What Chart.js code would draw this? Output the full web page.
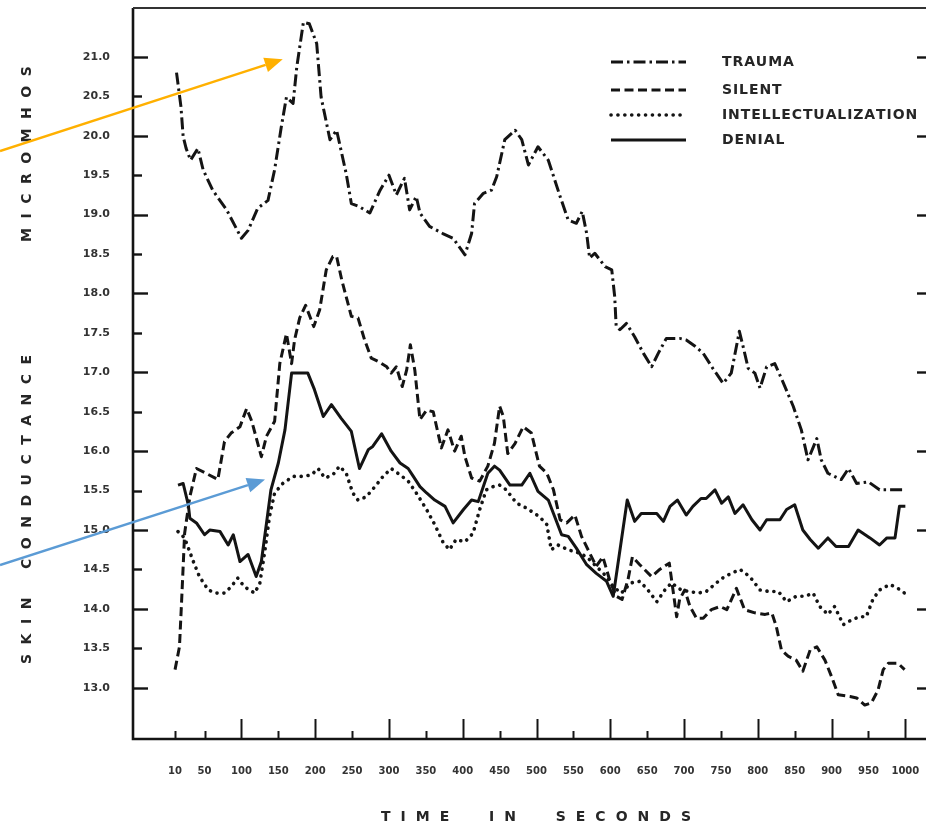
<!DOCTYPE html>
<html>
<head>
<meta charset="utf-8">
<title>Skin conductance over time</title>
<script src="https://cdn.jsdelivr.net/npm/chart.js@4.4.1/dist/chart.umd.min.js"></script>
<style>
  html, body { margin: 0; padding: 0; background: #ffffff; }
  #wrap { width: 927px; height: 826px; }
</style>
</head>
<body>
<div id="wrap"><canvas id="c" width="927" height="826"></canvas></div>
<script>
// ---- data: time (s) and skin conductance (micromhos) per condition ----
const traumaTimes = [12,18,21,25,31,41,48,61,80,100,109,122,136,145,154,161,170,175,184,192,202,208,220,229,242,249,260,274,288,300,310,321,328,337,342,355,373,387,403,412,416,428,439,446,457,471,480,489,502,516,532,543,554,562,568,572,579,593,602,606,608,613,622,633,645,656,665,676,694,703,715,726,739,753,764,775,780,787,796,803,812,823,834,848,859,868,880,886,895,913,923,934,950,965,1000];
const traumaValues = [20.80,20.37,19.99,19.84,19.69,19.84,19.57,19.31,19.06,18.70,18.80,19.08,19.18,19.57,20.11,20.49,20.41,20.87,21.44,21.42,21.17,20.49,19.95,20.07,19.52,19.14,19.10,19.02,19.31,19.50,19.25,19.46,19.06,19.23,19.02,18.85,18.76,18.70,18.49,18.76,19.14,19.27,19.31,19.48,19.95,20.07,19.95,19.63,19.86,19.69,19.23,18.93,18.89,19.04,18.76,18.45,18.51,18.34,18.30,17.96,17.58,17.54,17.62,17.45,17.24,17.07,17.24,17.43,17.43,17.41,17.33,17.24,17.05,16.86,16.99,17.52,17.33,17.05,16.99,16.80,17.07,17.11,16.88,16.57,16.27,15.89,16.16,15.89,15.72,15.64,15.78,15.59,15.61,15.51,15.51];

const silentTimes = [10,16,19,23,30,39,52,68,77,86,98,107,114,127,134,145,152,161,168,172,179,187,198,206,215,224,229,236,249,258,267,276,285,297,303,310,318,324,329,335,342,351,360,371,380,389,398,403,412,423,434,443,450,455,461,471,482,493,504,514,523,532,541,552,561,572,581,590,599,608,616,624,630,640,656,667,680,685,690,694,701,708,717,726,737,749,758,771,782,796,810,819,825,832,841,852,861,871,880,891,900,909,925,934,945,954,963,970,977,990,999];
const silentValues = [13.23,13.52,14.12,14.96,15.42,15.78,15.72,15.64,16.12,16.23,16.31,16.54,16.38,15.93,16.19,16.38,17.11,17.49,17.11,17.41,17.69,17.85,17.58,17.79,18.30,18.47,18.47,18.17,17.71,17.69,17.41,17.18,17.14,17.07,16.99,17.07,16.82,17.03,17.35,17.03,16.40,16.52,16.50,16.04,16.27,16.00,16.19,15.93,15.66,15.62,15.81,16.10,16.57,16.44,15.97,16.10,16.31,16.23,15.81,15.72,15.51,15.13,15.09,15.19,14.92,14.71,14.54,14.66,14.37,14.16,14.12,14.37,14.66,14.56,14.41,14.50,14.58,14.24,13.90,14.12,14.24,14.03,13.88,13.88,13.99,14.03,13.99,14.26,13.99,13.95,13.93,13.95,13.78,13.48,13.40,13.35,13.21,13.48,13.52,13.35,13.14,12.91,12.89,12.87,12.78,12.81,12.97,13.23,13.31,13.31,13.23];

const intellTimes = [14,23,34,43,55,66,77,86,95,104,118,125,132,138,145,156,170,184,195,204,213,224,233,242,251,258,269,281,292,303,315,326,337,351,362,373,382,391,403,414,423,432,441,450,459,473,486,504,514,520,529,543,557,568,581,595,604,615,628,640,651,663,674,683,696,708,719,730,744,755,764,776,789,803,816,828,839,852,864,875,884,895,904,916,927,938,947,956,965,979,990,999];
const intellValues = [14.98,14.90,14.62,14.41,14.24,14.20,14.20,14.28,14.39,14.28,14.20,14.33,14.75,15.17,15.47,15.59,15.68,15.68,15.70,15.78,15.66,15.70,15.81,15.72,15.47,15.38,15.42,15.55,15.68,15.78,15.70,15.62,15.47,15.26,15.07,14.85,14.75,14.88,14.85,14.96,15.26,15.51,15.55,15.57,15.51,15.34,15.28,15.17,15.07,14.75,14.81,14.75,14.71,14.66,14.54,14.41,14.28,14.20,14.33,14.35,14.24,14.09,14.24,14.33,14.24,14.22,14.20,14.22,14.33,14.41,14.45,14.50,14.41,14.24,14.22,14.22,14.09,14.16,14.16,14.20,14.03,13.93,14.03,13.80,13.86,13.90,13.90,14.12,14.24,14.31,14.26,14.20];

const denialTimes = [14,21,28,30,39,50,57,71,82,89,98,109,120,127,134,140,150,159,168,174,190,199,211,222,235,249,260,272,278,290,303,315,326,333,342,351,362,376,387,401,412,421,434,443,450,464,480,491,502,516,523,534,543,554,568,581,595,604,623,633,642,663,672,681,691,703,712,723,730,742,751,760,769,780,792,803,812,830,839,850,861,871,882,895,906,923,936,952,965,975,986,992,1000];
const denialValues = [15.57,15.59,15.32,15.15,15.09,14.94,15.00,14.98,14.81,14.94,14.60,14.69,14.41,14.60,15.09,15.51,15.85,16.27,16.99,16.99,16.99,16.78,16.44,16.59,16.42,16.25,15.78,16.02,16.06,16.22,16.00,15.85,15.78,15.68,15.55,15.47,15.38,15.30,15.09,15.26,15.38,15.36,15.72,15.81,15.76,15.57,15.57,15.72,15.49,15.38,15.21,14.94,14.92,14.77,14.56,14.45,14.35,14.16,15.38,15.11,15.21,15.21,15.11,15.30,15.38,15.19,15.30,15.40,15.40,15.51,15.34,15.42,15.21,15.32,15.13,15.00,15.13,15.13,15.26,15.32,15.00,14.88,14.77,14.90,14.79,14.79,15.00,14.90,14.81,14.90,14.90,15.30,15.30];

const seriesLabels = ['TRAUMA', 'SILENT', 'INTELLECTUALIZATION', 'DENIAL'];
const xTickValues = [10,50,100,150,200,250,300,350,400,450,500,550,600,650,700,750,800,850,900,950,1000];
const yTickValues = [13.0,13.5,14.0,14.5,15.0,15.5,16.0,16.5,17.0,17.5,18.0,18.5,19.0,19.5,20.0,20.5,21.0];
const yTitleWords = ['SKIN', 'CONDUCTANCE', 'MICROMHOS'];
const xTitle = 'TIME  IN  SECONDS';

const INK = '#141414';
const TEXT = '#262626';

function points(times, values) {
  return times.map((t, i) => ({ x: t, y: values[i] }));
}

// draw text one character at a time with extra tracking
function spacedWidth(ctx, text, spacing) {
  let w = 0;
  for (const ch of text) w += ctx.measureText(ch).width + spacing;
  return w - spacing;
}
function drawSpaced(ctx, text, x, y, spacing) {
  let cx = x;
  for (const ch of text) {
    ctx.fillText(ch, cx, y);
    cx += ctx.measureText(ch).width + spacing;
  }
}

// fixed axis box sizes, no extra label padding around the plot
function fixSize(prop, size) {
  return function (s) {
    s[prop] = size;
    s.paddingLeft = 0; s.paddingRight = 0; s.paddingTop = 0; s.paddingBottom = 0;
  };
}

// axis frame with inward tick marks
const framePlugin = {
  id: 'frame',
  beforeDatasetsDraw(chart) {
    const { ctx, chartArea: a, scales: { x, y } } = chart;
    ctx.save();
    ctx.strokeStyle = INK;
    ctx.lineCap = 'butt';
    ctx.lineWidth = 2.6;
    ctx.beginPath();
    ctx.moveTo(a.left, a.top);
    ctx.lineTo(a.left, a.bottom);
    ctx.lineTo(a.right, a.bottom);
    ctx.stroke();
    ctx.lineWidth = 2;
    ctx.strokeStyle = '#333';
    ctx.beginPath();
    ctx.moveTo(a.left, a.top);
    ctx.lineTo(a.right, a.top);
    ctx.stroke();

    ctx.strokeStyle = INK;
    ctx.lineWidth = 2.4;
    yTickValues.forEach(v => {
      const py = Math.round(y.getPixelForValue(v)) + 0.5;
      const major = Math.abs(v - Math.round(v)) < 1e-6;
      ctx.beginPath();
      ctx.moveTo(a.left, py);
      ctx.lineTo(a.left + (major ? 15 : 9), py);
      ctx.stroke();
      if (major) {
        ctx.beginPath();
        ctx.moveTo(a.right, py);
        ctx.lineTo(a.right - 9, py);
        ctx.stroke();
      }
    });
    ctx.lineWidth = 2;
    xTickValues.forEach(v => {
      const px = Math.round(x.getPixelForValue(v)) + 0.5;
      const major = v % 100 === 0;
      ctx.beginPath();
      ctx.moveTo(px, a.bottom);
      ctx.lineTo(px, a.bottom - (major ? 20 : 8));
      ctx.stroke();
    });
    ctx.restore();
  }
};

// axis titles with wide letter tracking
const titlesPlugin = {
  id: 'titles',
  afterDraw(chart) {
    const { ctx } = chart;
    ctx.save();
    ctx.fillStyle = TEXT;
    ctx.font = 'bold 14px "DejaVu Sans"';
    ctx.textBaseline = 'middle';
    ctx.textAlign = 'left';
    const starts = [664, 569, 242];
    yTitleWords.forEach((w, i) => {
      ctx.save();
      ctx.translate(27, starts[i]);
      ctx.rotate(-Math.PI / 2);
      drawSpaced(ctx, w, 0, 0, 9.5);
      ctx.restore();
    });
    const w = spacedWidth(ctx, xTitle, 10);
    drawSpaced(ctx, xTitle, 536 - w / 2, 817, 10);
    ctx.restore();
  }
};

// legend: line sample + label per series
const legendPlugin = {
  id: 'lineLegend',
  afterDraw(chart) {
    const { ctx } = chart;
    const rows = [62, 90, 115, 140];
    ctx.save();
    chart.data.datasets.forEach((ds, i) => {
      const yy = rows[i];
      ctx.strokeStyle = ds.borderColor;
      ctx.lineWidth = ds.borderWidth;
      ctx.lineCap = ds.borderCapStyle || 'butt';
      ctx.setLineDash(ds.borderDash || []);
      ctx.beginPath();
      ctx.moveTo(611, yy);
      ctx.lineTo(686, yy);
      ctx.stroke();
      ctx.setLineDash([]);
      ctx.fillStyle = TEXT;
      ctx.font = 'bold 14px "DejaVu Sans"';
      ctx.textBaseline = 'middle';
      ctx.textAlign = 'left';
      drawSpaced(ctx, ds.label, 722, yy, 0.9);
    });
    ctx.restore();
  }
};

// highlight arrows pointing into the plot
const arrowSpecs = [
  { color: '#FFB000', tipX: 156, tipY: 20.97, tailPx: [0, 151] },
  { color: '#5B9BD5', tipX: 132, tipY: 15.64, tailPx: [0, 565] }
];
const arrowPlugin = {
  id: 'arrows',
  afterDraw(chart) {
    const { ctx, scales: { x, y } } = chart;
    ctx.save();
    arrowSpecs.forEach(s => {
      const tx = x.getPixelForValue(s.tipX), ty = y.getPixelForValue(s.tipY);
      const [sx, sy] = s.tailPx;
      const ang = Math.atan2(ty - sy, tx - sx);
      const head = 18, half = 7.5;
      const bx = tx - head * Math.cos(ang), by = ty - head * Math.sin(ang);
      ctx.strokeStyle = s.color;
      ctx.fillStyle = s.color;
      ctx.lineWidth = 2.4;
      ctx.beginPath();
      ctx.moveTo(sx, sy);
      ctx.lineTo(bx, by);
      ctx.stroke();
      ctx.beginPath();
      ctx.moveTo(tx, ty);
      ctx.lineTo(bx + half * Math.sin(ang), by - half * Math.cos(ang));
      ctx.lineTo(bx - half * Math.sin(ang), by + half * Math.cos(ang));
      ctx.closePath();
      ctx.fill();
    });
    ctx.restore();
  }
};

const common = { borderColor: INK, pointRadius: 0, tension: 0, fill: false, borderJoinStyle: 'round' };

new Chart(document.getElementById('c'), {
  type: 'line',
  data: {
    datasets: [
      { ...common, label: seriesLabels[0], data: points(traumaTimes, traumaValues), borderWidth: 3, borderDash: [12, 4, 2.5, 4] },
      { ...common, label: seriesLabels[1], data: points(silentTimes, silentValues), borderWidth: 3, borderDash: [9, 4.5] },
      { ...common, label: seriesLabels[2], data: points(intellTimes, intellValues), borderWidth: 3.6, borderDash: [0.1, 6.8], borderCapStyle: 'round' },
      { ...common, label: seriesLabels[3], data: points(denialTimes, denialValues), borderWidth: 3 }
    ]
  },
  options: {
    responsive: false,
    animation: false,
    devicePixelRatio: 1,
    layout: { padding: { top: 8, right: 1, left: 0, bottom: 0 } },
    plugins: { legend: { display: false }, tooltip: { enabled: false } },
    scales: {
      x: {
        type: 'linear', min: -47, max: 1028,
        afterFit: fixSize('height', 87),
        afterBuildTicks(s) { s.ticks = xTickValues.map(v => ({ value: v })); },
        grid: { display: false, drawTicks: false },
        border: { display: false },
        ticks: {
          autoSkip: false, maxRotation: 0, padding: 26, color: '#333',
          font: { family: 'DejaVu Sans', size: 10, weight: 'bold' },
          callback: v => String(v)
        }
      },
      y: {
        type: 'linear', min: 12.35, max: 21.62,
        afterFit: fixSize('width', 133),
        afterBuildTicks(s) { s.ticks = yTickValues.map(v => ({ value: v })); },
        grid: { display: false, drawTicks: false },
        border: { display: false },
        ticks: {
          padding: 23, color: '#333',
          font: { family: 'DejaVu Sans', size: 11, weight: 'bold' },
          callback: v => Number(v).toFixed(1)
        }
      }
    }
  },
  plugins: [framePlugin, titlesPlugin, legendPlugin, arrowPlugin]
});
</script>
</body>
</html>
